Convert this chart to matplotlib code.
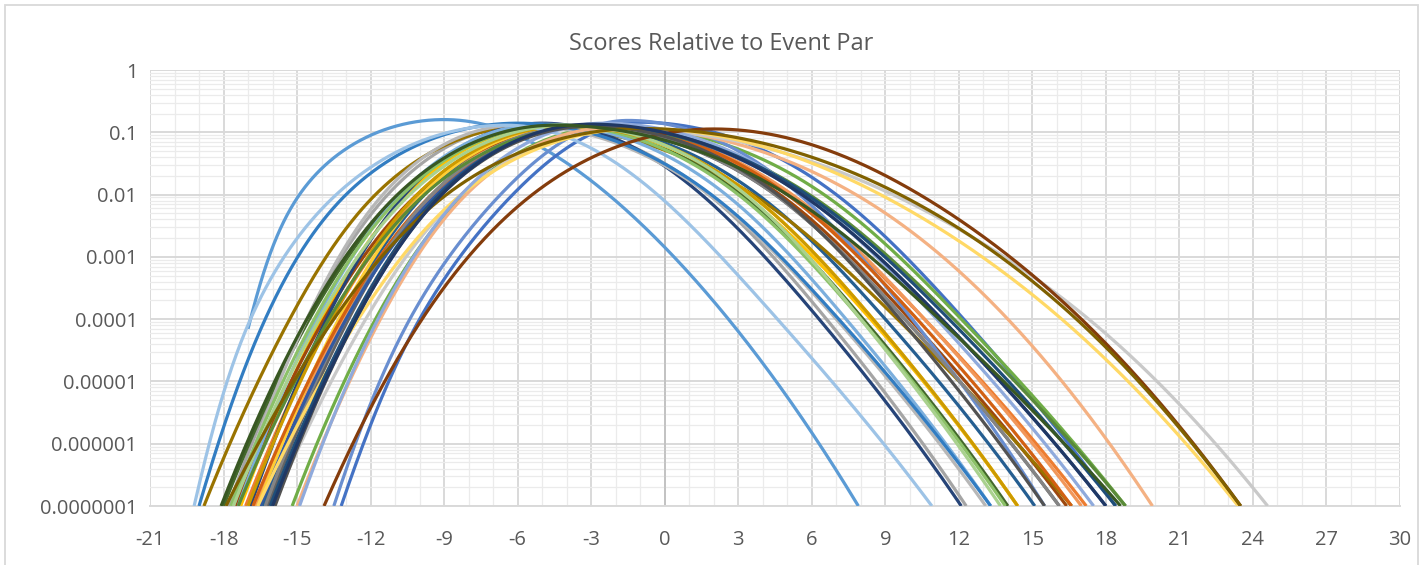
import numpy as np
import matplotlib
matplotlib.use("Agg")
import matplotlib.pyplot as plt
from matplotlib.ticker import FixedLocator, MultipleLocator, LogLocator, NullFormatter, FixedFormatter
from matplotlib.patches import Rectangle

# ---------------- data ----------------
title = "Scores Relative to Event Par"
x_ticks = list(range(-21, 31, 3))
y_ticks = [1e-7, 1e-6, 1e-5, 1e-4, 1e-3, 1e-2, 1e-1, 1]
y_tick_labels = ["0.0000001", "0.000001", "0.00001", "0.0001", "0.001", "0.01", "0.1", "1"]

series_colors = [
    "#5B9BD5", "#ED7D31", "#A5A5A5", "#FFC000", "#4472C4", "#70AD47",
    "#255E91", "#9E480E", "#636363", "#997300", "#264478", "#43682B",
    "#7CAFDD", "#F1975A", "#B7B7B7", "#FFCD33", "#698ED0", "#8CC168",
    "#327DC2", "#D26012", "#848484", "#CC9A00", "#335AA1", "#5A8A39",
    "#9DC3E6", "#F4B183", "#C9C9C9", "#FFD966", "#8FAADC", "#A9D18E",
    "#1F4E79", "#843C0C", "#525252", "#7F6000", "#203864", "#385723",
]
# first visible point on the rising side (x, y)
first_x = [-17.0, -17.1, -17.8, -17.3, -13.2, -15.2, -16.4, -17.5, -16.2, -18.8, -16.9, -18.0,
           -17.4, -16.7, -17.6, -16.6, -13.5, -17.7, -19.0, -16.8, -16.3, -17.0, -16.5, -17.4,
           -19.2, -15.0, -16.0, -16.6, -14.9, -17.6, -16.1, -13.9, -15.9, -17.9, -16.0, -18.1]
first_y = [7e-5] + [1e-7] * 35
# x where the rising side passes 1e-4 and 1e-2
x_up_1e4 = [-16.9, -13.6, -14.6, -14.0, -10.0, -11.8, -13.2, -13.9, -12.9, -15.3, -13.8, -14.5,
            -14.2, -13.1, -14.6, -13.3, -10.4, -14.3, -16.3, -13.2, -13.0, -13.6, -13.0, -13.7,
            -16.9, -11.6, -12.2, -12.5, -11.7, -14.1, -12.7, -9.9, -12.6, -13.5, -12.6, -14.6]
x_up_1e2 = [-14.9, -9.9, -11.3, -10.5, -6.2, -8.2, -9.8, -10.1, -9.5, -11.8, -10.6, -10.8,
            -10.8, -9.4, -11.5, -9.9, -6.7, -10.7, -13.0, -9.5, -9.5, -10.1, -9.3, -9.8,
            -13.4, -8.1, -8.3, -8.3, -8.3, -10.4, -9.2, -5.4, -9.1, -8.9, -9.1, -10.9]
# peak of each curve
peak_x = [-9.0, -3.5, -5.5, -4.5, -1.0, -2.0, -4.0, -3.5, -3.5, -5.5, -5.0, -4.5,
          -5.0, -3.0, -6.0, -4.0, -1.5, -4.5, -6.0, -3.0, -3.5, -4.0, -3.0, -3.0,
          -6.5, -2.0, -1.5, -1.0, -2.5, -4.0, -3.0, 2.0, -3.0, -1.0, -3.0, -4.5]
peak_y = [0.16, 0.13, 0.135, 0.13, 0.145, 0.125, 0.13, 0.125, 0.12, 0.125, 0.14, 0.13,
          0.135, 0.125, 0.13, 0.12, 0.155, 0.13, 0.14, 0.13, 0.125, 0.125, 0.13, 0.125,
          0.13, 0.12, 0.11, 0.115, 0.14, 0.13, 0.13, 0.113, 0.125, 0.115, 0.135, 0.13]
# x where the falling side passes 1e-2, 1e-4 and 1e-7
x_dn_1e2 = [-2.3, 5.0, 1.8, 3.2, 7.0, 6.5, 3.8, 4.7, 4.5, 3.6, 1.5, 3.1,
            2.5, 5.2, 1.8, 3.5, 5.5, 3.0, 1.9, 5.0, 4.5, 3.5, 5.6, 5.9,
            -0.3, 7.8, 9.3, 8.8, 5.7, 3.3, 5.8, 10.4, 4.6, 9.6, 5.6, 5.0]
x_dn_1e4 = [2.6, 10.6, 6.6, 8.4, 12.2, 12.1, 9.0, 10.0, 9.8, 9.5, 6.3, 8.1,
            7.4, 10.6, 7.0, 8.5, 10.1, 8.0, 7.1, 10.3, 9.8, 8.5, 11.3, 11.8,
            4.6, 14.0, 17.3, 16.2, 11.1, 8.0, 11.6, 17.0, 9.6, 16.8, 11.3, 11.2]
x_dn_1e7 = [7.9, 17.2, 12.3, 14.4, 18.4, 18.8, 15.1, 16.4, 16.1, 16.6, 12.1, 14.0,
            13.3, 17.0, 13.1, 14.4, 15.5, 13.9, 13.3, 16.6, 16.1, 14.4, 18.0, 18.8,
            10.9, 19.9, 24.6, 23.4, 17.5, 13.7, 18.4, 23.5, 15.5, 23.5, 18.0, 18.6]


# ---------------- smoothed line through the read points -------------
def natural_spline(xk, yk, xs):
    xk = np.asarray(xk, float)
    yk = np.asarray(yk, float)
    n = len(xk)
    h = np.diff(xk)
    d = np.diff(yk) / h
    A = np.zeros((n, n))
    r = np.zeros(n)
    A[0, 0] = 1.0
    A[-1, -1] = 1.0
    for i in range(1, n - 1):
        A[i, i - 1] = h[i - 1]
        A[i, i] = 2 * (h[i - 1] + h[i])
        A[i, i + 1] = h[i]
        r[i] = 6 * (d[i] - d[i - 1])
    M = np.linalg.solve(A, r)
    idx = np.clip(np.searchsorted(xk, xs) - 1, 0, n - 2)
    x0, x1 = xk[idx], xk[idx + 1]
    hh = h[idx]
    a = (x1 - xs) / hh
    b = (xs - x0) / hh
    return (a * yk[idx] + b * yk[idx + 1]
            + ((a**3 - a) * M[idx] + (b**3 - b) * M[idx + 1]) * hh**2 / 6)


def side(px, lp, xs_k, ys_k, sign):
    # distance from the peak as a smooth function of sqrt(drop in log10 y)
    u = [0.0] + [np.sqrt(lp - np.log10(v)) for v in ys_k]
    dist = [0.0] + [abs(x - px) for x in xs_k]
    order = np.argsort(u)
    u = np.array(u)[order]
    dist = np.array(dist)[order]
    uu = np.linspace(0, u[-1], 300)
    dd = natural_spline(u, dist, uu)
    return px + sign * dd, 10 ** (lp - uu**2)


# ---------------- figure ----------------
W, H = 1423, 565
fig = plt.figure(figsize=(W / 100, H / 100), dpi=100)
L, R, T, B = 150, 1400, 70, 506
ax = fig.add_axes([L / W, 1 - B / H, (R - L) / W, (B - T) / H])

font = ["Open Sans", "DejaVu Sans"]
txt = "#595959"

for i, c in enumerate(series_colors):
    px, lp = peak_x[i], np.log10(peak_y[i])
    xl, yl = side(px, lp, [x_up_1e2[i], x_up_1e4[i], first_x[i]], [1e-2, 1e-4, first_y[i]], -1)
    xr, yr = side(px, lp, [x_dn_1e2[i], x_dn_1e4[i], x_dn_1e7[i]], [1e-2, 1e-4, 1e-7], 1)
    xs = np.concatenate([xl[::-1], xr[1:]])
    ys = np.concatenate([yl[::-1], yr[1:]])
    ax.plot(xs, ys, color=c, lw=2.3, solid_capstyle="butt", zorder=3)

ax.set_yscale("log")
ax.set_xlim(-21, 30)
ax.set_ylim(1e-7, 1)
ax.xaxis.set_major_locator(FixedLocator(x_ticks))
ax.xaxis.set_minor_locator(MultipleLocator(1))
ax.yaxis.set_major_locator(FixedLocator(y_ticks))
ax.yaxis.set_major_formatter(FixedFormatter(y_tick_labels))
ax.yaxis.set_minor_locator(LogLocator(base=10, subs=np.arange(2, 10), numticks=20))
ax.yaxis.set_minor_formatter(NullFormatter())
ax.set_xticklabels([str(v) for v in x_ticks])

ax.set_axisbelow(True)
ax.grid(which="major", color="#D9D9D9", lw=1.4)
ax.grid(which="minor", color="#EBEBEB", lw=0.9)
ax.axvline(0, color="#BFBFBF", lw=1.2, zorder=1.5)
for s in ["top", "right", "left"]:
    ax.spines[s].set_visible(False)
ax.spines["bottom"].set_color("#D9D9D9")
ax.spines["bottom"].set_linewidth(1.4)
ax.tick_params(which="both", length=0)
ax.tick_params(axis="x", pad=17, labelsize=14.5, labelcolor=txt)
ax.tick_params(axis="y", pad=9, labelsize=14.5, labelcolor=txt)
for lab in ax.get_xticklabels() + ax.get_yticklabels():
    lab.set_family(font)

fig.text(721 / W, 1 - 44 / H, title, ha="center", va="center", fontsize=17,
         color=txt, family=font)
fig.patches.append(Rectangle((5 / W, -0.02), (1418 - 5) / W, 1.02 - 5 / H, transform=fig.transFigure,
                             fill=False, ec="#D9D9D9", lw=1.3))

fig.savefig("out.png", dpi=100)
